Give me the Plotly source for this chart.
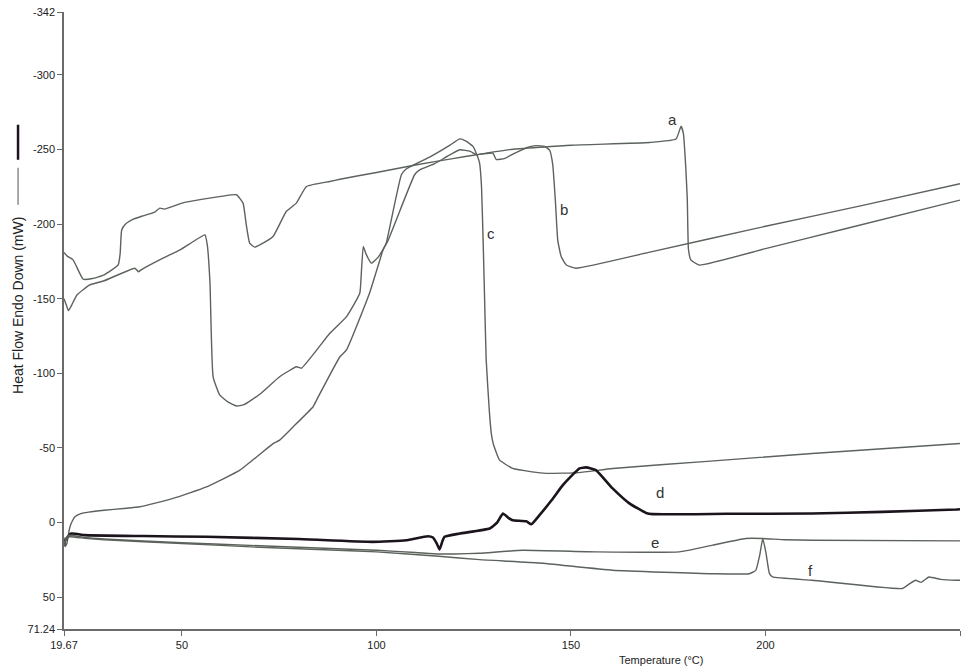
import plotly.graph_objects as go

# DSC heat-flow curves (Temperature in degC, Heat Flow in mW, endo down)
a_temp = [19.67, 20.5, 22.0, 24.6, 27.0, 30.0, 33.6, 34.1, 34.5, 35.5, 37.1, 40.0, 43.0, 44.3, 45.5,
          50.0, 55.0, 60.0, 64.0, 65.7, 66.5, 67.4, 68.7, 70.0, 73.4, 76.8, 79.4, 82.0, 88.0, 90.6,
          100.0, 110.0, 120.0, 125.7, 134.2, 150.0, 170.2, 177.0, 178.3, 178.9, 179.5, 179.9,
          180.2, 180.8, 183.0, 200.0, 220.0, 250.0]
a_flow = [-181, -178.5, -176, -163, -163.5, -166, -172.6, -180, -196, -200, -202.8, -205.5, -208, -210.6, -210,
          -214, -216.5, -218.5, -219.6, -214, -200, -187.2, -184.5, -186, -191.6, -208.4, -214, -225.1, -228.5, -230,
          -234.5, -239.5, -244, -246.4, -249.8, -252.8, -254.6, -256.9, -265.5, -260.5, -238, -216,
          -183, -176, -172.5, -183.5, -196.5, -216]

b_temp = [19.67, 20.1, 20.8, 21.5, 23.0, 26.3, 30.0, 37.9, 38.8, 39.6, 45.0, 49.5, 52.9, 55.9, 56.5,
          57.2, 58.0, 59.7, 62.0, 64.0, 65.9, 70.0, 75.1, 79.4, 80.7, 88.0, 92.3, 95.7, 96.1, 96.6,
          97.3, 98.7, 100.5, 102.8, 109.8, 111.1, 115.0, 121.4, 124.1, 125.8, 129.9, 130.8, 133.0,
          136.0, 139.0, 141.0, 143.2, 144.5, 145.3, 146.0, 146.6, 147.5, 148.8, 151.3, 170.0, 200.0,
          225.0, 250.0]
b_flow = [-150, -147, -142, -145, -152.5, -159.2, -162, -170.4, -168, -169.5, -177, -182.7, -188.3, -192.7, -186,
          -160.4, -97.7, -85.5, -80.5, -78.1, -79, -86, -97.7, -104.4, -103.4, -126.8, -138, -153.6, -167, -185,
          -180, -173.8, -178, -188, -233, -236.3, -240.5, -249.7, -248.6, -246.5, -247.5, -243.2, -244,
          -248, -251.5, -252.5, -252, -249.5, -240, -215, -189, -178, -172.6, -170.4, -181, -198.5,
          -212.5, -227]

c_temp = [19.67, 20.0, 20.4, 21.0, 21.5, 22.5, 24.0, 26.0, 30.0, 35.0, 39.2, 47.7, 56.3, 64.9, 73.5,
          75.1, 78.6, 83.7, 84.6, 90.6, 92.3, 98.2, 101.7, 102.5, 106.4, 107.7, 114.0, 119.0, 121.4,
          123.0, 124.8, 126.0, 126.5, 127.0, 127.5, 127.8, 128.2, 129.0, 129.5, 130.0, 131.6, 135.0,
          140.0, 143.6, 152.0, 160.7, 185.0, 212.0, 250.0]
c_flow = [10, 16, 14, 5, 0.6, -4, -6, -7, -8.3, -9.5, -10.6, -16.2, -24, -35.2, -53.1,
          -55.3, -64.2, -77.6, -82.1, -111.1, -115.7, -153.6, -182.7, -187.2, -233, -237, -245.3, -253, -257,
          -255.5, -252, -245, -240.8, -225, -180, -149, -109, -75, -60, -53, -42, -36.3,
          -34, -33, -33.5, -36.3, -41, -46.3, -53]

d_temp = [19.67, 20.0, 21.5, 25.0, 40.0, 56.3, 80.0, 99.0, 107.6, 113.2, 114.5, 115.5, 116.2, 117.0,
          117.5, 121.4, 129.1, 131.0, 132.5, 134.0, 135.0, 138.5, 139.8, 141.9, 145.0, 147.9, 150.0,
          152.2, 153.9, 156.4, 160.7, 165.0, 169.3, 171.0, 190.0, 212.0, 230.0, 249.0, 250.0]
d_flow = [15, 11.8, 7.3, 8.4, 9.0, 9.5, 11.0, 12.9, 11.8, 9.1, 10.0, 14.0, 18.0, 12.0,
          9.5, 7.3, 3.9, 0, -6.1, -3.0, -1.6, -0.9, 1.1, -5.0, -15.0, -25.1, -31.0,
          -36.3, -37.0, -35.2, -22.9, -12.9, -6.5, -5.7, -5.9, -6.1, -7.2, -8.8, -9.0]

e_temp = [19.67, 20.2, 21.0, 25.0, 30.0, 50.0, 70.0, 90.0, 100.0, 110.0, 116.0, 120.0, 126.5, 137.6,
          156.4, 177.8, 186.4, 194.9, 199.2, 205.0, 212.0, 250.0]
e_flow = [14, 10, 8.5, 10, 11, 13.5, 15.5, 17.5, 18.5, 20, 21, 21, 20.5, 18.5,
          19.6, 19.6, 15.1, 10.6, 10.6, 11.5, 11.8, 12.2]

f_temp = [19.67, 20.3, 21.0, 25.0, 30.0, 50.0, 70.0, 90.0, 100.0, 116.0, 126.5, 141.9, 160.7, 186.4,
          195.8, 197.5, 198.5, 199.3, 200.1, 201.0, 201.8, 212.0, 235.2, 237.0, 238.6, 240.0, 242.0,
          245.0, 249.0, 250.0]
f_flow = [16, 11, 9.5, 10.5, 11.5, 14, 16.5, 18.5, 19.6, 22.5, 24.8, 27, 31.9, 34.2,
          34.2, 32, 22, 10.6, 20, 34, 36.4, 38.6, 44.1, 41, 38.6, 40, 36.4,
          38, 38.6, 38.6]

curve_labels = ["a", "b", "c", "d", "e", "f"]
label_temp = [176.1, 148.1, 129.4, 173.0, 171.7, 211.6]
label_flow = [-269.9, -209.5, -193.7, -20.4, 13.1, 31.9]

y_ticks = [-342, -300, -250, -200, -150, -100, -50, 0, 50, 71.24]
y_ticktext = ["-342", "-300", "-250", "-200", "-150", "-100", "-50", "0", "50", "71.24"]
x_ticks = [19.67, 50, 100, 150, 200, 250]
x_ticktext = ["19.67", "50", "100", "150", "200", "250"]

GREY = "#5c625c"
INK = "#222222"
FONT = "Liberation Sans, Arial, sans-serif"

fig = go.Figure()
series = [
    ("a", a_temp, a_flow, GREY, 1.4),
    ("b", b_temp, b_flow, GREY, 1.4),
    ("c", c_temp, c_flow, GREY, 1.4),
    ("d", d_temp, d_flow, "#1c141c", 2.6),
    ("e", e_temp, e_flow, GREY, 1.4),
    ("f", f_temp, f_flow, GREY, 1.4),
]
for name, xs, ys, col, w in series:
    fig.add_trace(go.Scatter(x=xs, y=ys, mode="lines", name=name,
                             line=dict(color=col, width=w, shape="spline", smoothing=0.4)))

for lab, lx, ly in zip(curve_labels, label_temp, label_flow):
    fig.add_annotation(x=lx, y=ly, text=lab, showarrow=False,
                       font=dict(size=15, color="#333333", family=FONT))

# y-axis title with line-style keys
KEY_X = -0.0513
fig.add_annotation(xref="paper", yref="paper", x=KEY_X, y=0.5236, xanchor="center", yanchor="middle",
                   text="Heat Flow Endo Down (mW)", textangle=-90, showarrow=False,
                   font=dict(size=14, color=INK, family=FONT))
fig.add_shape(type="line", xref="paper", yref="paper", x0=KEY_X, x1=KEY_X,
              y0=1 - (168 - 12.4) / 616.3, y1=1 - (205 - 12.4) / 616.3, line=dict(color="#555555", width=1))
fig.add_shape(type="line", xref="paper", yref="paper", x0=KEY_X, x1=KEY_X,
              y0=1 - (125 - 12.4) / 616.3, y1=1 - (160 - 12.4) / 616.3, line=dict(color="#1c141c", width=2.5))

# x-axis title
fig.add_annotation(xref="paper", yref="paper", x=(705 - 64) / 896, y=-0.038, yanchor="top",
                   text="Temperature (°C)", showarrow=False,
                   font=dict(size=11, color=INK, family=FONT))

axis_style = dict(showgrid=False, zeroline=False, showline=True, linecolor="#6a6a6a", linewidth=1.5,
                  ticks="outside", ticklen=5, tickcolor="#6a6a6a", tickwidth=1.2,
                  tickfont=dict(size=11, color=INK, family=FONT))
fig.update_xaxes(range=[19.67, 250], tickmode="array", tickvals=x_ticks, ticktext=x_ticktext, **axis_style)
fig.update_yaxes(range=[71.24, -342], tickmode="array", tickvals=y_ticks, ticktext=y_ticktext, **axis_style)

fig.update_layout(width=964, height=671, margin=dict(l=64, r=4, t=12, b=42),
                  plot_bgcolor="white", paper_bgcolor="white", showlegend=False)

fig.write_html("out.html")
